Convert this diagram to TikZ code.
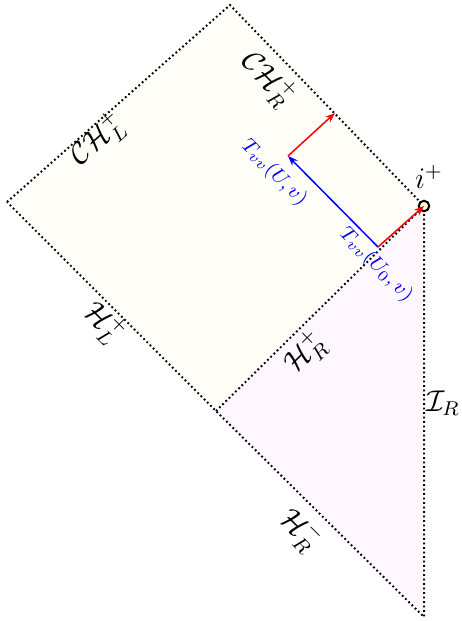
\documentclass[tikz,border=0pt]{standalone}
\usepackage{amsmath}
\usetikzlibrary{arrows.meta}
\definecolor{bhfill}{RGB}{254,253,248}
\definecolor{extfill}{RGB}{254,247,254}
\definecolor{ptfill}{RGB}{255,248,205}
\begin{document}
\begin{tikzpicture}[
    x=0.4pt, y=-0.4pt,
    every node/.style={font=\large},
    horizon/.style={dash pattern=on 0.7pt off 1.1pt, line width=0.8pt},
    flux/.style={-{Stealth[length=4pt,width=3pt]}, semithick},
    tlabel/.style={blue, font=\footnotesize, rotate=-45, inner sep=1pt}
]
\useasboundingbox (0,0) rectangle (461,621);
% corners of the diagram
\coordinate (top) at (230,5);
\coordinate (left) at (7,202);
\coordinate (iplus) at (424,206);
\coordinate (bot) at (216,411);
\coordinate (base) at (424,617);
% regions
\fill[bhfill] (top) -- (iplus) -- (bot) -- (left) -- cycle;
\fill[extfill] (bot) -- (iplus) -- (base) -- cycle;
% horizons
\draw[horizon] (left) -- (top) -- (iplus) -- (base) -- (bot) -- (left);
\draw[horizon] (bot) -- (iplus);
\draw[thick, fill=ptfill] (iplus) circle (2.1pt);
% flux
\coordinate (u0) at (378,247);
\coordinate (u1) at (288,156);
\coordinate (ch) at (335,113);
\draw[flux, red] (u0) -- (iplus);
\draw[flux, blue] (u0) -- (u1);
\draw[flux, red] (u1) -- (ch);
% labels
\node[rotate=-46] (chr) at (268,79) {$\mathcal{CH}_R^+$};
\node[rotate=41.5] (chl) at (98,140) {$\mathcal{CH}_L^+$};
\node[rotate=-45] (hl) at (104,323) {$\mathcal{H}_L^+$};
\node[rotate=44.6] (hr) at (305,353) {$\mathcal{H}_R^+$};
\node[rotate=-45] (hrm) at (300,530) {$\mathcal{H}_R^-$};
\node (scri) at (443,403) {$\mathcal{I}_R$};
\node (ip) at (429,177) {$i^+$};
\node[tlabel] (tu) at (274,173) {$T_{vv}(U,v)$};
\node[tlabel] (tu0) at (376,265) {$T_{vv}(U_0,v)$};
\end{tikzpicture}
\end{document}
